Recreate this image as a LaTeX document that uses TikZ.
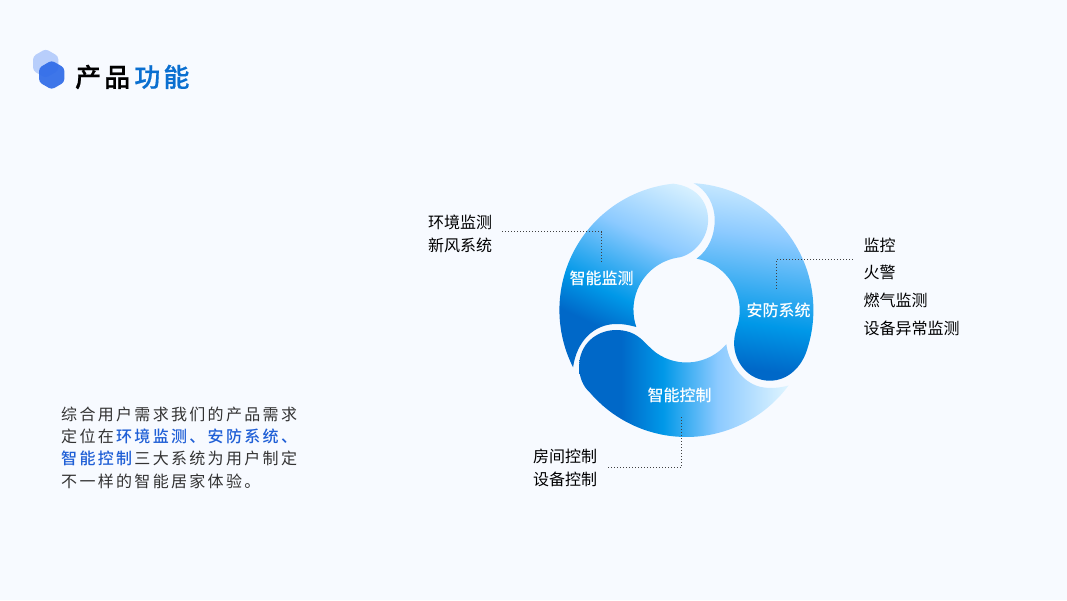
\documentclass[tikz,border=0pt]{standalone}
\usepackage{fontspec}
\setmainfont{Noto Sans CJK SC}
\newfontfamily\mediumfont{Noto Sans CJK SC Medium}
\newfontfamily\titlefont[LetterSpace=12,FakeBold=0.6]{Noto Sans CJK SC Medium}
\newfontfamily\bodyfont[LetterSpace=14.5]{Noto Sans CJK SC}
\newfontfamily\bodymediumfont[LetterSpace=14.5]{Noto Sans CJK SC Medium}
\usetikzlibrary{shapes.geometric}
\definecolor{pagebg}{HTML}{F7FAFF}
\definecolor{ringdark}{HTML}{0068C8}
\definecolor{ringmid}{HTML}{0098E8}
\definecolor{ringsoft}{HTML}{8CCAFF}
\definecolor{ringpale}{HTML}{E0F5FF}
\definecolor{titleblue}{HTML}{0A6FD0}
\definecolor{bodyblue}{HTML}{1F5FD6}
\definecolor{bodyink}{HTML}{333333}
\definecolor{logolight}{HTML}{B8CEFB}
\definecolor{logodark}{HTML}{2F6BE8}
\pgfdeclareverticalshading{ringblue}{100bp}{color(0bp)=(ringdark); color(35bp)=(ringdark); color(45bp)=(ringmid); color(58bp)=(ringsoft); color(75bp)=(ringpale); color(100bp)=(ringpale)}
\pgfdeclareverticalshading{ringbluetilt}{100bp}{color(0bp)=(ringdark); color(33bp)=(ringdark); color(43bp)=(ringmid); color(62bp)=(ringsoft); color(82bp)=(ringpale); color(100bp)=(ringpale)}
\pgfdeclareverticalshading{ringbluelow}{100bp}{color(0bp)=(ringdark); color(27bp)=(ringdark); color(39bp)=(ringmid); color(62bp)=(ringsoft); color(80bp)=(ringpale); color(100bp)=(ringpale)}
\tikzset{
  logohex/.style={regular polygon,regular polygon sides=6,shape border rotate=30,minimum size=29pt,inner sep=0pt,rounded corners=3pt},
  notetext/.style={anchor=west,inner sep=0pt,align=left,text=black,font=\fontsize{16}{23}\selectfont},
  ringlabel/.style={inner sep=0pt,text=white,font=\mediumfont\fontsize{16}{20}\selectfont},
  leader/.style={draw=black!75,line width=1pt,dash pattern=on 1pt off 2pt}
}
\begin{document}
\begin{tikzpicture}[x=1pt,y=1pt]
    \fill[pagebg] (0, 0) rectangle (1067, 600);
    % logo and title
    \node[logohex,fill=logolight] (logoback) at (45.7, 536.5) {};
    \node[logohex,fill=logodark,fill opacity=0.92] (logofront) at (51.7, 525) {};
    \node[anchor=west,inner sep=0pt,font=\titlefont\fontsize{26}{30}\selectfont] (title) at (75, 523) {产品\kern4pt\textcolor{titleblue}{功能}};
    % ring
    \begin{scope}[shift={(686.4, 290)}]
        \shade[shading=ringbluetilt,shading angle=-25]
            (206.8:127) arc (206.8:96:127)
            .. controls (8, 124) and (21.7, 110) .. (21.7, 90)
            .. controls (21.7, 72) and (8, 56) .. (-6.7, 52.7)
            arc (97.2:199:52.9)
            .. controls (-58, -15) and (-62, -14) .. (-70, -14)
            .. controls (-93, -14) and (-110, -32) .. (-113.3, -57.3);
        \shade[shading=ringbluelow,shading angle=-8]
            (86.7:127) arc (86.7:-20:127)
            .. controls (115, -55) and (103, -70.7) .. (83.3, -70.7)
            .. controls (62, -70.7) and (47.7, -52) .. (47.7, -33.3)
            .. controls (47.7, -27) and (49, -23) .. (49.5, -20)
            arc (-22:79.8:52.5)
            .. controls (22, 60) and (28.3, 74) .. (28.3, 90)
            .. controls (28.3, 106) and (20, 120) .. (7.3, 126.8);
        \shade[shading=ringblue,shading angle=-90]
            (-36.4:127) arc (-36.4:-139.3:127)
            .. controls (-104, -76) and (-107.3, -66) .. (-107.3, -56.7)
            .. controls (-107.3, -34) and (-90, -20) .. (-70, -20)
            .. controls (-55, -20) and (-47, -27) .. (-42, -32)
            .. controls (-38, -36) and (-34, -40) .. (-30, -43)
            arc (235:319.3:52.5)
            .. controls (42, -52) and (55, -72) .. (73.3, -76.7)
            .. controls (83, -79) and (93, -78) .. (102.2, -75.5);
    \end{scope}
    \node[ringlabel,minimum height=32pt] (monitorlabel) at (601.5, 322) {智能监测};
    \node[ringlabel,minimum height=38pt] (securitylabel) at (778.5, 290) {安防系统};
    \node[ringlabel,minimum height=43pt] (controllabel) at (679.5, 205) {智能控制};
    % notes
    \node[notetext] (monitornote) at (428, 366.5) {环境监测\\新风系统};
    \node[notetext,font=\fontsize{16}{27.7}\selectfont] (securitynote) at (863.5, 313.5) {监控\\火警\\燃气监测\\设备异常监测};
    \node[notetext] (controlnote) at (533, 132.5) {房间控制\\设备控制};
    % leaders
    \coordinate (monitorfree) at (502, 368);
    \coordinate (securityfree) at (852.7, 340.7);
    \coordinate (controlfree) at (608, 133);
    \draw[leader] (monitorfree) -| (monitorlabel.north);
    \draw[leader] (securityfree) -| ([xshift=-1.8pt]securitylabel.north);
    \draw[leader] (controlfree) -| ([xshift=2.2pt]controllabel.south);
    % text
    \node[anchor=west,inner sep=0pt,align=left,text=bodyink,font=\bodyfont\fontsize{16}{22.4}\selectfont] (summary) at (61, 152.5)
        {综合用户需求我们的产品需求\\定位在\kern2.3pt\textcolor{bodyblue}{\bodymediumfont 环境监测、安防系统、}\\\textcolor{bodyblue}{\bodymediumfont 智能控制}\kern2.3pt三大系统为用户制定\\不一样的智能居家体验。};
\end{tikzpicture}
\end{document}
